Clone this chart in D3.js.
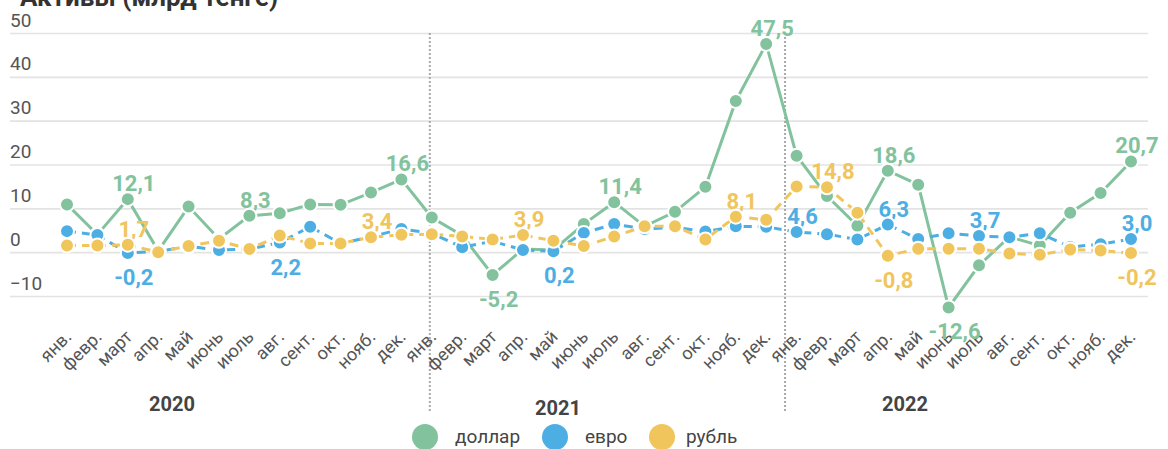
<!DOCTYPE html>
<html>
<head>
<meta charset="utf-8">
<script src="https://cdn.jsdelivr.net/npm/d3@7"></script>
<style>
  html, body { margin: 0; padding: 0; background: #fff; }
  svg { display: block; font-family: Roboto, "Noto Sans", sans-serif; }
</style>
</head>
<body>
<svg id="chart" width="1168" height="449"></svg>
<script>
const title = "Активы (млрд тенге)";
const months = ["янв.","февр.","март","апр.","май","июнь","июль","авг.","сент.","окт.","нояб.","дек."];
const years = ["2020","2021","2022"];
const yTicks = [-10, 0, 10, 20, 30, 40, 50];
const seriesNames = ["доллар", "евро", "рубль"];

const dollar = [10.9, 4.0, 12.1, 0.3, 10.4, 3.0, 8.3, 8.9, 10.9, 10.8, 13.6, 16.6,
                7.9, 3.8, -5.2, 0.7, 0.5, 6.4, 11.4, 5.9, 9.2, 14.9, 34.5, 47.5,
                22.0, 12.8, 6.0, 18.6, 15.4, -12.6, -3.0, 3.5, 1.5, 9.0, 13.5, 20.7];
const euro = [4.8, 3.9, -0.2, 0.2, 1.3, 0.5, 0.7, 2.2, 5.8, 2.0, 3.5, 5.3,
              4.3, 1.1, 2.5, 0.5, 0.2, 4.4, 6.4, 5.3, 5.7, 4.7, 5.9, 5.8,
              4.6, 4.1, 2.9, 6.3, 3.0, 4.3, 3.7, 3.4, 4.3, 1.2, 1.8, 3.0];
const ruble = [1.5, 1.5, 1.7, 0.0, 1.4, 2.6, 0.7, 3.8, 2.0, 2.0, 3.4, 4.0,
               4.1, 3.6, 2.9, 3.9, 2.6, 1.4, 3.6, 5.9, 5.9, 2.9, 8.1, 7.4,
               15.0, 14.8, 9.0, -0.8, 0.8, 0.8, 0.8, -0.3, -0.6, 0.6, 0.4, -0.2];

// labelled points: [month index, side]
const dollarLabels = [[2,"above"],[6,"above"],[11,"above"],[14,"below"],[18,"above"],[23,"above"],[27,"above"],[29,"below"],[35,"above"]];
const euroLabels = [[2,"below"],[7,"below"],[16,"below"],[24,"above"],[27,"above"],[30,"above"],[35,"above"]];
const rubleLabels = [[2,"above"],[10,"above"],[15,"above"],[22,"above"],[25,"above"],[27,"below"],[35,"below"]];

const colors = ["#82c39e", "#4daee3", "#f0c55c"];

const keys = [];
years.forEach(y => months.forEach(m => keys.push(y + "-" + m)));

const svg = d3.select("#chart");
const x = d3.scalePoint().domain(keys).range([67, 1131]);
const y = d3.scaleLinear().domain([-10, 50]).range([296, 33]);
const step = x.step();

// title (cropped at top, as in the source)
svg.append("text").attr("x", 20).attr("y", 6)
  .attr("font-size", 26).attr("font-weight", 700).attr("fill", "#333")
  .text(title);

// grid + y labels
const yAxis = d3.axisLeft(y).tickValues(yTicks).tickSize(-(1148 - 10)).tickFormat(d3.format("d"));
const gy = svg.append("g").attr("transform", "translate(10,0)").call(yAxis);
gy.select(".domain").remove();
gy.selectAll(".tick line").attr("stroke", "#e3e3e3").attr("stroke-width", 1.6);
gy.selectAll(".tick text")
  .attr("x", 0).attr("dy", -7)
  .attr("text-anchor", "start")
  .attr("font-size", 19).attr("fill", "#555")
  .attr("font-family", "Roboto");

// year dividers
const dividers = [x(keys[12]) - 2, x(keys[23]) + 0.62 * step];
svg.selectAll("line.div").data(dividers).enter().append("line")
  .attr("x1", d => d).attr("x2", d => d)
  .attr("y1", y(50)).attr("y2", 413)
  .attr("stroke", "#a9a9a9").attr("stroke-width", 2).attr("stroke-dasharray", "2,2");

// x month labels
const xAxis = d3.axisBottom(x).tickSize(0).tickFormat(d => d.split("-")[1]);
const gx = svg.append("g").call(xAxis);
gx.select(".domain").remove();
gx.selectAll(".tick text")
  .attr("x", 0).attr("y", 0).attr("dy", 0)
  .attr("text-anchor", "end")
  .attr("transform", "translate(5,338) rotate(-45)")
  .attr("font-size", 18).attr("fill", "#555")
  .attr("font-family", "Roboto");

// year labels
const yearPos = [[years[0], 172, 411], [years[1], 558, 415], [years[2], 905, 411]];
svg.selectAll("text.year").data(yearPos).enter().append("text")
  .attr("class", "year")
  .attr("x", d => d[1]).attr("y", d => d[2])
  .attr("text-anchor", "middle").attr("font-size", 20).attr("font-weight", 700)
  .attr("fill", "#444").text(d => d[0]);

// series
const allSeries = [dollar, euro, ruble];
const allLabels = [dollarLabels, euroLabels, rubleLabels];
const dashes = [null, "9,6", "9,6"];
const fmt = v => d3.format(".1f")(v).replace(".", ",").replace("−", "-");

const line = d3.line().x((d, i) => x(keys[i])).y(d => y(d));

allSeries.forEach((vals, si) => {
  const g = svg.append("g");
  g.append("path").datum(vals)
    .attr("d", line).attr("fill", "none")
    .attr("stroke", colors[si]).attr("stroke-width", 3)
    .attr("stroke-dasharray", dashes[si]);
  g.selectAll("text.lbl").data(allLabels[si]).enter().append("text")
    .attr("x", d => x(keys[d[0]]) + 6)
    .attr("y", d => y(vals[d[0]]) + (d[1] === "above" ? -8 : 32))
    .attr("text-anchor", "middle")
    .attr("font-size", 22).attr("font-weight", 700)
    .attr("fill", colors[si])
    .text(d => fmt(vals[d[0]]));
  g.selectAll("circle").data(vals).enter().append("circle")
    .attr("cx", (d, i) => x(keys[i])).attr("cy", d => y(d))
    .attr("r", 7).attr("fill", colors[si])
    .attr("stroke", "#fff").attr("stroke-width", 2);
});

// legend
const legendPos = [[425, 455], [555, 585], [662, 686]];
const lg = svg.append("g");
seriesNames.forEach((name, i) => {
  lg.append("circle").attr("cx", legendPos[i][0]).attr("cy", 437).attr("r", 13).attr("fill", colors[i]);
  lg.append("text").attr("x", legendPos[i][1]).attr("y", 443)
    .attr("font-size", 19).attr("fill", "#444").text(name);
});
</script>
</body>
</html>
